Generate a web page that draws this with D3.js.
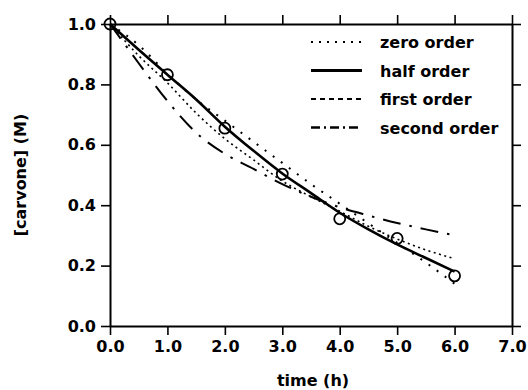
<!DOCTYPE html>
<html>
<head>
<meta charset="utf-8">
<script src="https://cdn.jsdelivr.net/npm/d3@7"></script>
<style>
  html, body { margin: 0; padding: 0; background: #fff; }
  text { font-family: "DejaVu Sans", sans-serif; font-weight: bold; fill: #000; }
</style>
</head>
<body>
<div id="chart"></div>
<script>
// values
var timeGrid   = [0, 0.5, 1, 1.5, 2, 2.5, 3, 3.5, 4, 4.5, 5, 5.5, 6];
var zeroOrder  = [1.0, 0.93, 0.835, 0.75, 0.68, 0.61, 0.54, 0.47, 0.405, 0.34, 0.275, 0.21, 0.14];
var halfOrder  = [1.0, 0.915, 0.832, 0.75, 0.66, 0.58, 0.505, 0.44, 0.375, 0.32, 0.27, 0.225, 0.18];
var firstOrder = [1.0, 0.895, 0.805, 0.705, 0.62, 0.55, 0.48, 0.428, 0.38, 0.33, 0.288, 0.252, 0.223];
var secondOrder= [1.0, 0.87, 0.745, 0.64, 0.57, 0.52, 0.47, 0.428, 0.393, 0.366, 0.341, 0.32, 0.30];

var obsTime = [0, 1, 2, 3, 4, 5, 6];
var obsConc = [1.0, 0.832, 0.655, 0.503, 0.355, 0.29, 0.166];

var xTicks = [0, 1, 2, 3, 4, 5, 6, 7];
var yTicks = [0, 0.2, 0.4, 0.6, 0.8, 1.0];
var legendNames = ['zero order', 'half order', 'first order', 'second order'];

var w = 528, h = 390;
var margin = {top: 24, right: 16, bottom: 64, left: 110};

var svg = d3.select('#chart').append('svg')
  .attr('width', w).attr('height', h);

var x = d3.scaleLinear().domain([0, 7]).range([margin.left, w - margin.right]);
var y = d3.scaleLinear().domain([0, 1]).range([h - margin.bottom, margin.top]);
var fmt = d3.format('.1f');

function styleAxis(g) {
  g.selectAll('path.domain').attr('stroke', '#000').attr('stroke-width', 2);
  g.selectAll('.tick line').attr('stroke', '#000').attr('stroke-width', 1.6);
  g.selectAll('.tick text').style('font-size', '16px').attr('fill', '#000');
}

svg.append('g').attr('transform', 'translate(0,' + y(0) + ')')
  .call(d3.axisBottom(x).tickValues(xTicks).tickFormat(fmt).tickSize(9).tickSizeOuter(0).tickPadding(6))
  .call(styleAxis);
svg.append('g').attr('transform', 'translate(0,' + y(1) + ')')
  .call(d3.axisTop(x).tickValues(xTicks).tickFormat('').tickSize(9).tickSizeOuter(0))
  .call(styleAxis);
svg.append('g').attr('transform', 'translate(' + x(0) + ',0)')
  .call(d3.axisLeft(y).tickValues(yTicks).tickFormat(fmt).tickSize(9).tickSizeOuter(0).tickPadding(5))
  .call(styleAxis);
svg.append('g').attr('transform', 'translate(' + x(7) + ',0)')
  .call(d3.axisRight(y).tickValues(yTicks).tickFormat('').tickSize(9).tickSizeOuter(0))
  .call(styleAxis);

// axis titles
svg.append('text')
  .attr('x', (x(0) + x(7)) / 2 + 2).attr('y', 386)
  .attr('text-anchor', 'middle').style('font-size', '16px')
  .text('time (h)');
svg.append('text')
  .attr('transform', 'translate(26,' + y(0.5) + ') rotate(-90)')
  .attr('text-anchor', 'middle').style('font-size', '16px')
  .text('[carvone] (M)');

var series = [
  {vals: zeroOrder,  dash: '2,8',        width: 2},
  {vals: halfOrder,  dash: null,         width: 2.6},
  {vals: firstOrder, dash: '2,3.5',      width: 1.6},
  {vals: secondOrder,dash: '18,9,2.5,9', width: 2}
];

var line = d3.line()
  .x(function(d) { return x(d[0]); })
  .y(function(d) { return y(d[1]); })
  .curve(d3.curveMonotoneX);

svg.selectAll('path.fit')
  .data(series)
  .enter()
  .append('path')
  .attr('class', 'fit')
  .attr('fill', 'none')
  .attr('stroke', '#000')
  .attr('stroke-width', function(d) { return d.width; })
  .attr('stroke-dasharray', function(d) { return d.dash; })
  .attr('d', function(d) {
    return line(timeGrid.map(function(t, i) { return [t, d.vals[i]]; }));
  });

svg.selectAll('circle.obs')
  .data(obsTime)
  .enter()
  .append('circle')
  .attr('class', 'obs')
  .attr('cx', function(d) { return x(d); })
  .attr('cy', function(d, i) { return y(obsConc[i]); })
  .attr('r', 5.5)
  .attr('fill', 'none')
  .attr('stroke', '#000')
  .attr('stroke-width', 1.8);

// legend
var legendDash = ['2,6', null, '5,4', '9,4,2,4'];
var legendWidth = [2.2, 3, 1.8, 2.4];
var lg = svg.append('g');
legendNames.forEach(function(name, i) {
  var ly = 42 + i * 28.5;
  lg.append('line')
    .attr('x1', 311).attr('x2', 362)
    .attr('y1', ly).attr('y2', ly)
    .attr('stroke', '#000')
    .attr('stroke-width', legendWidth[i])
    .attr('stroke-dasharray', legendDash[i]);
  lg.append('text')
    .attr('x', 380).attr('y', ly + 6)
    .style('font-size', '16px')
    .text(name);
});
</script>
</body>
</html>
